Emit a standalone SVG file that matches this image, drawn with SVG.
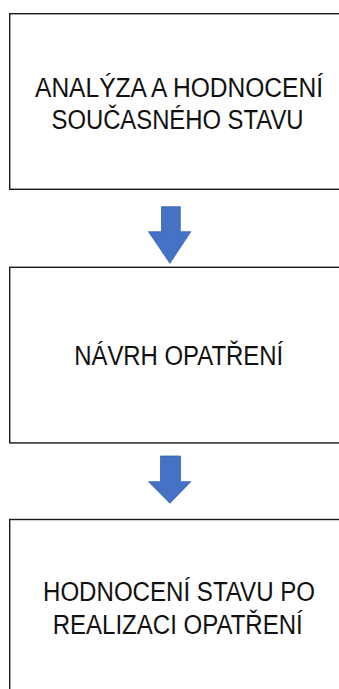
<svg xmlns="http://www.w3.org/2000/svg" width="339" height="689" viewBox="0 0 339 689">
<style>
.box{fill:#fff;stroke:#1a1a1a;stroke-width:1.4}
.t{font-family:"Liberation Sans",Arial,sans-serif;font-size:27px;fill:#111;text-anchor:middle}
.arr{fill:#4472C4;stroke:#3b63ad;stroke-width:0.8}
</style>
<rect x="0" y="0" width="339" height="689" fill="#fff"/>
<g id="node1">
<rect class="box" x="9.7" y="13.7" width="340" height="175.6"/>
<text class="t" x="179" y="96.7" textLength="288" lengthAdjust="spacingAndGlyphs">ANALÝZA A HODNOCENÍ</text>
<text class="t" x="177.5" y="129.2" textLength="252" lengthAdjust="spacingAndGlyphs">SOUČASNÉHO STAVU</text>
</g>
<g id="node2">
<rect class="box" x="9.7" y="267.3" width="340" height="175.6"/>
<text class="t" x="178.7" y="365.2" textLength="209" lengthAdjust="spacingAndGlyphs">NÁVRH OPATŘENÍ</text>
</g>
<g id="node3">
<rect class="box" x="9.7" y="519.5" width="340" height="200"/>
<text class="t" x="179" y="601" textLength="272" lengthAdjust="spacingAndGlyphs">HODNOCENÍ STAVU PO</text>
<text class="t" x="177.7" y="633.8" textLength="250" lengthAdjust="spacingAndGlyphs">REALIZACI OPATŘENÍ</text>
</g>
<g id="connectors">
<polygon class="arr" points="161.5,206.7 180.3,206.7 180.3,231.7 190.8,231.7 169.9,263.3 148.5,231.7 161.5,231.7"/>
<polygon class="arr" points="160.5,456 180.5,456 180.5,481.7 190.8,481.7 169.9,503.3 148.5,481.7 160.5,481.7"/>
</g>
</svg>
